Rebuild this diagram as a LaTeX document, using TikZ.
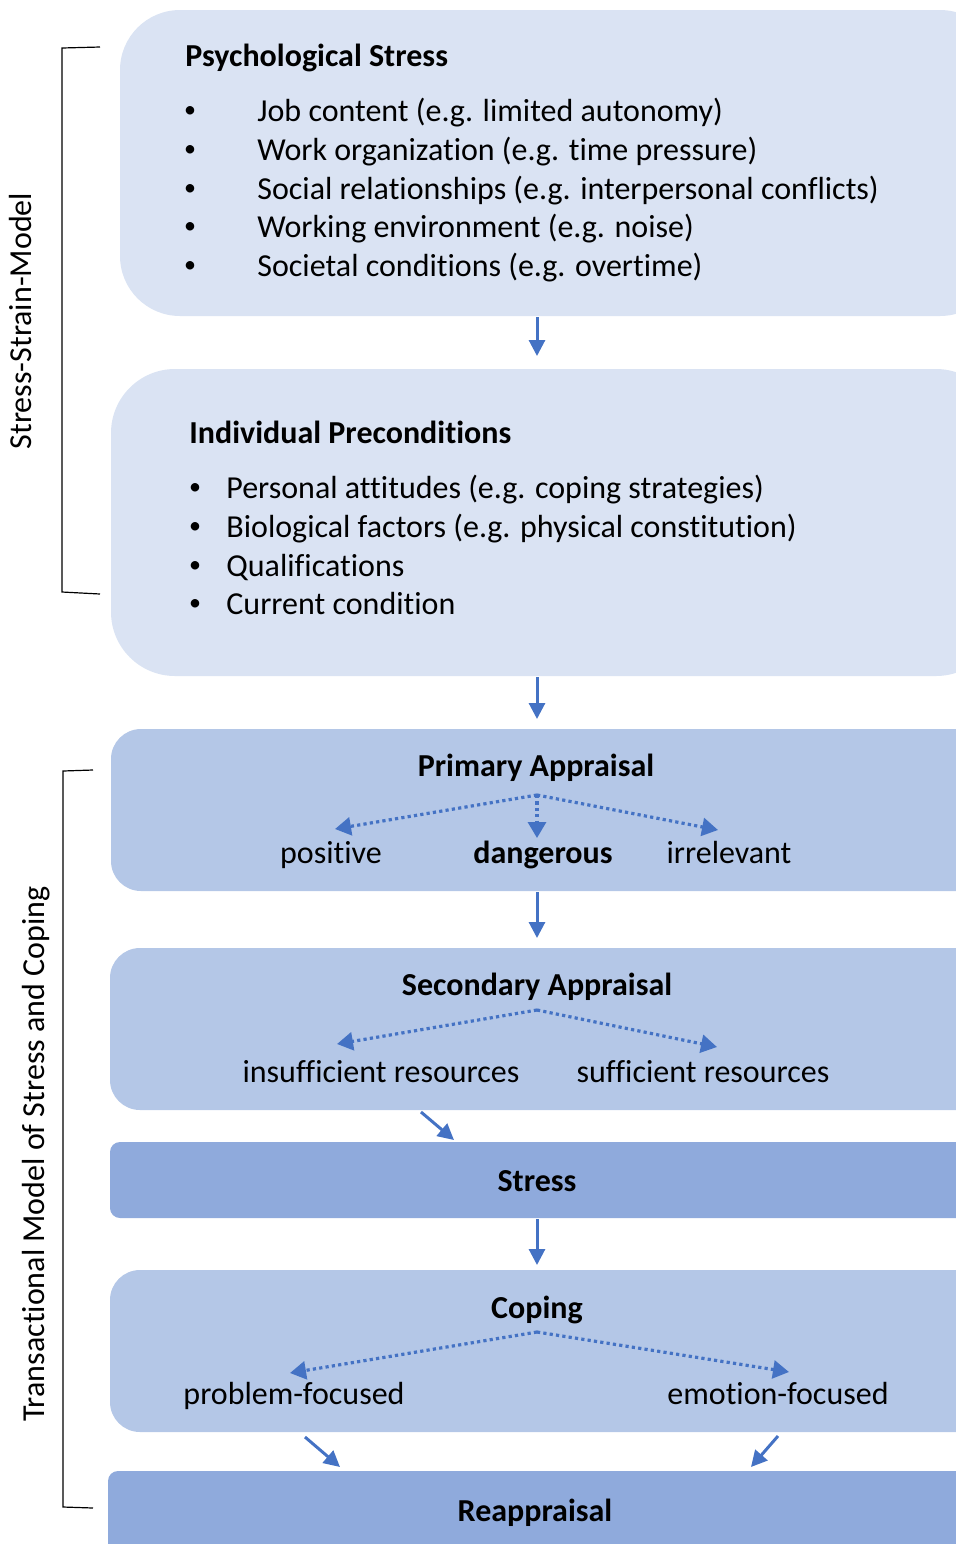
\documentclass[tikz,border=0pt]{standalone}
\usepackage{fontspec}
\setmainfont[Ligatures={NoCommon}]{Carlito}
\usetikzlibrary{arrows.meta}
\definecolor{boxlight}{HTML}{DAE3F3}
\definecolor{boxmid}{HTML}{B4C7E7}
\definecolor{boxdark}{HTML}{8FAADC}
\definecolor{arr}{HTML}{4472C4}
\begin{document}
\begin{tikzpicture}[x=0.5pt,y=-0.5pt,
  txt/.style={inner sep=0pt,text height=11pt,text depth=3pt,font=\fontsize{16}{19}\selectfont},
  ltxt/.style={txt,anchor=west},
  bul/.style={inner sep=0pt,font=\fontsize{12}{14}\selectfont},
  btxt/.style={txt,font=\fontsize{16}{19}\selectfont\bfseries},
  solidarr/.style={draw=arr,line width=1.5pt,-{Triangle[length=8pt,width=8pt]}},
  dotarr/.style={draw=arr,line width=1.6pt,dash pattern=on 1.6pt off 1.6pt,-{Triangle[length=8pt,width=9pt]}},
  brk/.style={draw=black,line width=0.6pt},
  sidelbl/.style={txt,rotate=90}]
\useasboundingbox (0,0) rectangle (956,1544);
\clip (0,0) rectangle (956,1544);
% boxes
\fill[boxlight,rounded corners=30pt] (120,10) rectangle (1000,316);
\fill[boxlight,rounded corners=32pt] (111,369) rectangle (1000,676);
\fill[boxmid,rounded corners=15pt] (111,729) rectangle (1000,891);
\fill[boxmid,rounded corners=15pt] (110,948) rectangle (1000,1110);
\fill[boxdark,rounded corners=5pt] (110,1142) rectangle (1000,1218);
\fill[boxmid,rounded corners=15pt] (110,1270) rectangle (1000,1432);
\fill[boxdark,rounded corners=5pt] (108,1471) rectangle (1000,1600);
% box 1
\node[btxt,anchor=west] (ps) at (185,58) {Psychological Stress};
\foreach \yy/\t [count=\i] in {113/Job content (e.g. limited autonomy),152/Work organization (e.g. time pressure),191/Social relationships (e.g. interpersonal conflicts),229/Working environment (e.g. noise),268/Societal conditions (e.g. overtime)}{
  \node[bul] (psb\i) at (190,\yy-1) {•};
  \node[ltxt] (pst\i) at (257,\yy) {\t};
}
% box 2
\node[btxt,anchor=west] (ip) at (189,435) {Individual Preconditions};
\foreach \yy/\t [count=\i] in {490/Personal attitudes (e.g. coping strategies),529/Biological factors (e.g. physical constitution),568/Qualifications,606/Current condition}{
  \node[bul] (ipb\i) at (195,\yy-1) {•};
  \node[ltxt] (ipt\i) at (226,\yy) {\t};
}
% primary
\node[btxt] (pa) at (536,768) {Primary Appraisal};
\coordinate (paf) at (537,795);
\node[txt] (pos) at (331,855) {positive};
\node[btxt] (dan) at (543,855) {dangerous};
\node[txt] (irr) at (729,855) {irrelevant};
\coordinate (posT) at (335,829);
\coordinate (danT) at (537,838);
\coordinate (irrT) at (718,830);
\draw[dotarr] (paf) -- (posT);
\draw[dotarr] (paf) -- (danT);
\draw[dotarr] (paf) -- (irrT);
% secondary
\node[btxt] (sa) at (537,987) {Secondary Appraisal};
\coordinate (saf) at (537,1010);
\node[txt] (ins) at (381,1074) {insufficient resources};
\node[txt] (suf) at (703,1074) {sufficient resources};
\coordinate (insT) at (337,1044);
\coordinate (sufT) at (717,1047);
\draw[dotarr] (saf) -- (insT);
\draw[dotarr] (saf) -- (sufT);
% stress
\node[btxt] (st) at (537,1183) {Stress};
% coping
\node[btxt] (cp) at (537,1310) {Coping};
\coordinate (cpf) at (537,1332);
\node[txt] (pf) at (294,1396) {problem-focused};
\node[txt] (ef) at (778,1396) {emotion-focused};
\coordinate (pfT) at (290,1373);
\coordinate (efT) at (789,1372);
\draw[dotarr] (cpf) -- (pfT);
\draw[dotarr] (cpf) -- (efT);
% reappraisal
\node[btxt] (re) at (535,1513) {Reappraisal};
% solid arrows
\coordinate (a1s) at (537,317); \coordinate (a1e) at (537,356);
\coordinate (a2s) at (537,677); \coordinate (a2e) at (537,719);
\coordinate (a3s) at (537,892); \coordinate (a3e) at (537,938);
\coordinate (a4s) at (537,1219); \coordinate (a4e) at (537,1265);
\coordinate (d1s) at (421,1112); \coordinate (d1e) at (454,1140);
\coordinate (d2s) at (305,1437); \coordinate (d2e) at (340,1467);
\coordinate (d3s) at (778,1436); \coordinate (d3e) at (751,1467);
\foreach \p in {a1,a2,a3,a4,d1,d2,d3}{\draw[solidarr] (\p s) -- (\p e);}
% brackets
\coordinate (b1a) at (100,47); \coordinate (b1b) at (62,48);
\coordinate (b1c) at (62,592); \coordinate (b1d) at (100,594);
\draw[brk] (b1a) -- (b1b) -- (b1c) -- (b1d);
\coordinate (b2a) at (93,770); \coordinate (b2b) at (63,771);
\coordinate (b2c) at (63,1507); \coordinate (b2d) at (93,1508);
\draw[brk] (b2a) -- (b2b) -- (b2c) -- (b2d);
\node[sidelbl] (l1) at (24,321) {Stress-Strain-Model};
\node[sidelbl] (l2) at (37,1154) {Transactional Model of Stress and Coping};
\end{tikzpicture}
\end{document}
